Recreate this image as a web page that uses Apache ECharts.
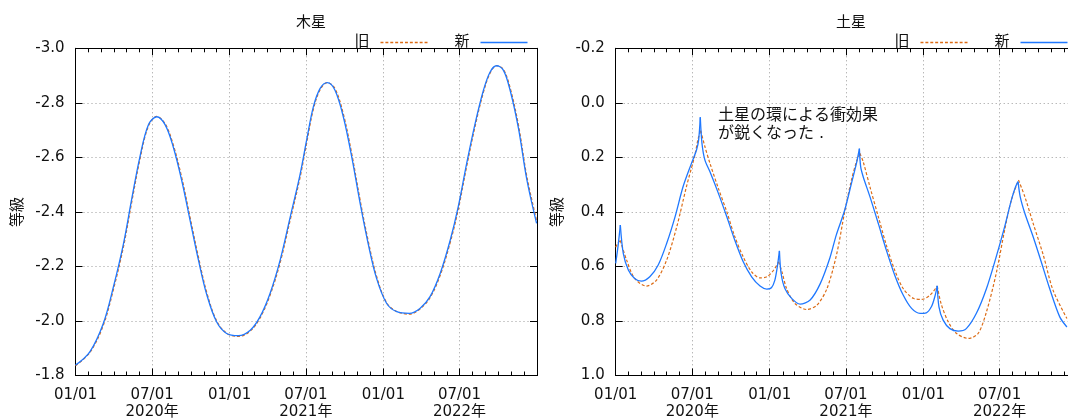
<!DOCTYPE html>
<html>
<head>
<meta charset="utf-8">
<script src="https://cdn.jsdelivr.net/npm/echarts@6/dist/echarts.min.js"></script>
<style>html,body{margin:0;padding:0;background:#fff}#c{width:1068px;height:419px}</style>
</head>
<body>
<div id="c"></div>
<script>
// ---------- data ----------
const panelTitles = ['木星', '土星'];
const seriesNames = ['旧', '新'];
const yAxisName = '等級';
const note = '土星の環による衝効果\nが鋭くなった .';

const jupiterDates = ['2020-01-01','2020-02-04','2020-03-07','2020-03-31','2020-04-24','2020-05-13','2020-06-02','2020-06-22','2020-07-12','2020-08-01','2020-08-20','2020-09-09','2020-09-29','2020-10-19','2020-11-08','2020-12-01','2020-12-25','2021-01-22','2021-02-19','2021-03-14','2021-04-07','2021-05-01','2021-05-25','2021-06-17','2021-07-03','2021-07-19','2021-08-04','2021-08-21','2021-09-08','2021-09-28','2021-10-18','2021-11-07','2021-11-26','2021-12-16','2022-01-09','2022-02-02','2022-03-04','2022-03-29','2022-04-22','2022-05-16','2022-06-09','2022-06-28','2022-07-18','2022-08-07','2022-08-27','2022-09-12','2022-09-27','2022-10-13','2022-10-29','2022-11-18','2022-12-08','2022-12-31'];
const jupiterNew = [-1.838,-1.887,-1.991,-2.125,-2.284,-2.443,-2.602,-2.719,-2.749,-2.719,-2.639,-2.517,-2.370,-2.223,-2.095,-1.997,-1.954,-1.946,-1.966,-2.015,-2.101,-2.223,-2.382,-2.535,-2.664,-2.786,-2.853,-2.874,-2.847,-2.749,-2.602,-2.431,-2.284,-2.156,-2.064,-2.034,-2.028,-2.046,-2.089,-2.174,-2.297,-2.419,-2.578,-2.724,-2.847,-2.914,-2.936,-2.920,-2.847,-2.706,-2.517,-2.358];
const jupiterOld = [-1.836,-1.884,-1.984,-2.115,-2.273,-2.431,-2.592,-2.714,-2.750,-2.723,-2.647,-2.528,-2.381,-2.234,-2.103,-2.001,-1.955,-1.943,-1.963,-2.010,-2.094,-2.214,-2.371,-2.524,-2.653,-2.777,-2.848,-2.874,-2.853,-2.760,-2.614,-2.443,-2.295,-2.164,-2.067,-2.035,-2.025,-2.044,-2.085,-2.167,-2.288,-2.409,-2.567,-2.714,-2.840,-2.910,-2.936,-2.923,-2.856,-2.718,-2.529,-2.369];

const saturnNewDates = ['2020-01-01','2020-01-07','2020-01-12','2020-01-19','2020-01-31','2020-02-15','2020-03-02','2020-03-22','2020-04-11','2020-05-01','2020-05-21','2020-06-09','2020-06-29','2020-07-11','2020-07-16','2020-07-20','2020-07-24','2020-07-31','2020-08-12','2020-09-01','2020-09-21','2020-10-10','2020-10-30','2020-11-19','2020-12-09','2020-12-25','2021-01-05','2021-01-13','2021-01-19','2021-01-24','2021-01-28','2021-02-06','2021-02-22','2021-03-14','2021-04-07','2021-05-01','2021-05-24','2021-06-08','2021-06-28','2021-07-14','2021-07-26','2021-07-30','2021-08-02','2021-08-05','2021-08-11','2021-08-27','2021-09-16','2021-10-05','2021-10-25','2021-11-14','2021-12-04','2021-12-24','2022-01-08','2022-01-20','2022-01-28','2022-02-03','2022-02-07','2022-02-17','2022-03-05','2022-03-25','2022-04-13','2022-05-07','2022-05-31','2022-06-23','2022-07-13','2022-07-29','2022-08-08','2022-08-14','2022-08-19','2022-08-30','2022-09-19','2022-10-08','2022-10-28','2022-11-21','2022-12-08'];
const saturnNew = [0.589,0.520,0.448,0.552,0.613,0.644,0.654,0.638,0.595,0.516,0.418,0.308,0.222,0.173,0.137,0.053,0.149,0.210,0.253,0.332,0.418,0.504,0.583,0.638,0.672,0.683,0.678,0.651,0.601,0.543,0.626,0.681,0.717,0.738,0.723,0.663,0.568,0.485,0.394,0.296,0.222,0.192,0.168,0.234,0.271,0.344,0.443,0.540,0.632,0.705,0.754,0.772,0.770,0.748,0.712,0.671,0.748,0.797,0.828,0.837,0.828,0.772,0.681,0.565,0.455,0.357,0.308,0.289,0.344,0.405,0.492,0.583,0.681,0.785,0.822];
const saturnNewCusps = ['2020-01-12','2020-07-20','2021-01-24','2021-08-02','2022-02-03','2022-08-14'];

const saturnOldDates = ['2020-01-01','2020-01-06','2020-01-12','2020-01-27','2020-02-15','2020-03-14','2020-04-07','2020-05-01','2020-05-25','2020-06-17','2020-07-07','2020-07-15','2020-07-21','2020-07-31','2020-08-12','2020-09-01','2020-09-21','2020-10-10','2020-10-30','2020-11-19','2020-12-09','2020-12-25','2021-01-10','2021-01-22','2021-01-30','2021-02-10','2021-03-02','2021-03-30','2021-04-23','2021-05-17','2021-06-09','2021-06-28','2021-07-14','2021-07-26','2021-08-03','2021-08-11','2021-08-27','2021-09-16','2021-10-05','2021-10-25','2021-11-14','2021-12-08','2021-12-28','2022-01-17','2022-02-03','2022-02-12','2022-03-01','2022-03-21','2022-04-18','2022-05-11','2022-05-31','2022-06-23','2022-07-13','2022-07-29','2022-08-15','2022-08-30','2022-09-19','2022-10-13','2022-11-05','2022-12-08'];
const saturnOld = [0.530,0.515,0.505,0.577,0.644,0.672,0.650,0.577,0.455,0.308,0.192,0.131,0.102,0.161,0.222,0.314,0.400,0.491,0.565,0.620,0.642,0.638,0.614,0.583,0.620,0.681,0.736,0.758,0.742,0.681,0.555,0.400,0.284,0.216,0.185,0.216,0.308,0.418,0.522,0.614,0.681,0.717,0.721,0.705,0.672,0.736,0.803,0.846,0.864,0.846,0.766,0.626,0.467,0.357,0.283,0.344,0.443,0.559,0.687,0.791];
const saturnOldCusps = ['2020-01-12','2020-07-21','2021-01-22','2021-08-03','2022-02-03','2022-08-15'];

const jupiterRange = [-3.0, -1.8];
const saturnRange = [-0.2, 1.0];
const magStep = 0.2;

// ---------- build ----------
const FONT = '"DejaVu Sans", "Noto Sans CJK JP", sans-serif';
const TXT = '#111';
const OLD_COLOR = '#dc6c16';
const NEW_COLOR = '#1f78ff';
const GRIDLINE = {type: [1, 3], color: '#9a9a9a', width: 1};

const categories = [];
for (let t = Date.UTC(2020, 0, 1); t <= Date.UTC(2023, 0, 1); t += 86400000) {
  categories.push(new Date(t).toISOString().slice(0, 10));
}
const isMajor = (i, v) => /-(01|07)-01$/.test(v);
const isLabeled = (i, v) => isMajor(i, v) && v !== '2023-01-01';
const isMonth = (i, v) => /-01$/.test(v);
const fmtDate = v => {
  const p = v.split('-');
  return p[1] === '07' ? p[1] + '/' + p[2] + '\n' + p[0] + '年' : p[1] + '/' + p[2];
};

function xAxesFor(g) {
  const base = {type: 'category', gridIndex: g, data: categories, boundaryGap: false};
  const line = {show: true, onZero: false, lineStyle: {color: '#000', width: 1}};
  return [
    Object.assign({}, base, {position: 'bottom', axisLine: line,
      axisTick: {show: true, inside: true, length: 7, interval: isMajor, lineStyle: {color: '#000'}},
      axisLabel: {show: true, interval: isLabeled, formatter: fmtDate, margin: 11, fontSize: 15, lineHeight: 17, color: TXT, fontFamily: FONT},
      splitLine: {show: true, interval: isMajor, lineStyle: GRIDLINE}}),
    Object.assign({}, base, {position: 'bottom', axisLine: {show: false, onZero: false},
      axisTick: {show: true, inside: true, length: 4, interval: isMonth, lineStyle: {color: '#000'}},
      axisLabel: {show: false}, splitLine: {show: false}}),
    Object.assign({}, base, {position: 'top', axisLine: line,
      axisTick: {show: true, inside: true, length: 7, interval: isMajor, lineStyle: {color: '#000'}},
      axisLabel: {show: false}, splitLine: {show: false}}),
    Object.assign({}, base, {position: 'top', axisLine: {show: false, onZero: false},
      axisTick: {show: true, inside: true, length: 4, interval: isMonth, lineStyle: {color: '#000'}},
      axisLabel: {show: false}, splitLine: {show: false}})
  ];
}
function yAxesFor(g, range) {
  const base = {type: 'value', gridIndex: g, inverse: true, min: range[0], max: range[1], interval: magStep,
    axisLine: {show: true, onZero: false, lineStyle: {color: '#000', width: 1}},
    axisTick: {show: true, inside: true, length: 7, lineStyle: {color: '#000'}}};
  return [
    Object.assign({}, base, {position: 'left',
      axisLabel: {show: true, formatter: v => v.toFixed(1), margin: 11, fontSize: 15, color: TXT, fontFamily: FONT},
      splitLine: {show: true, lineStyle: GRIDLINE},
      name: yAxisName, nameLocation: 'middle', nameRotate: 90, nameGap: 50,
      nameTextStyle: {fontSize: 15, color: TXT, fontFamily: FONT}}),
    Object.assign({}, base, {position: 'right', axisLabel: {show: false}, splitLine: {show: false}})
  ];
}
const pairs = (dates, vals) => dates.map((d, i) => [d, vals[i]]);
function splitAt(dates, vals, cusps) {
  const segs = []; let cur = [];
  dates.forEach((d, i) => {
    cur.push([d, vals[i]]);
    if (cusps.indexOf(d) >= 0 && i > 0 && i < dates.length - 1) { segs.push(cur); cur = [[d, vals[i]]]; }
  });
  segs.push(cur);
  return segs;
}
const oldStyle = {color: OLD_COLOR, width: 1.2, type: [3, 2]};
const newStyle = {color: NEW_COLOR, width: 1.3, type: 'solid'};
function lineSeries(name, data, xi, yi, style, smooth) {
  return {name: name, type: 'line', xAxisIndex: xi, yAxisIndex: yi, data: data, symbol: 'none',
    smooth: smooth, color: style.color, lineStyle: style, animation: false, clip: true};
}

const series = [
  lineSeries(seriesNames[0], pairs(jupiterDates, jupiterOld), 0, 0, oldStyle, 0.35),
  lineSeries(seriesNames[1], pairs(jupiterDates, jupiterNew), 0, 0, newStyle, 0.35)
];
splitAt(saturnOldDates, saturnOld, saturnOldCusps).forEach(s => series.push(lineSeries(seriesNames[0], s, 4, 2, oldStyle, 0.3)));
splitAt(saturnNewDates, saturnNew, saturnNewCusps).forEach(s => series.push(lineSeries(seriesNames[1], s, 4, 2, newStyle, 0.3)));

// legend icons: dashed / solid strokes
let dashPath = 'path://';
for (let i = 0; i < 10; i++) dashPath += 'M' + (i * 5) + ',0h3v1h-3z';
const solidPath = 'path://M0,0h48v1h-48z';
function legendAt(left, name, icon) {
  return {left: left, top: 35, orient: 'horizontal', align: 'right', itemWidth: 47, itemHeight: 1.3,
    symbolKeepAspect: false, selectedMode: false, padding: 0, width: 120,
    data: [{name: name, icon: icon}],
    textStyle: {fontSize: 15, color: TXT, fontFamily: FONT, padding: [0, 6, 0, 0]}};
}

const chart = echarts.init(document.getElementById('c'), null, {renderer: 'canvas'});
chart.setOption({
  animation: false,
  backgroundColor: '#fff',
  textStyle: {fontFamily: FONT},
  title: [
    {text: panelTitles[0], left: 306, top: 11, textAlign: 'center', textStyle: {fontSize: 15, fontWeight: 'normal', color: TXT, fontFamily: FONT}},
    {text: panelTitles[1], left: 846, top: 11, textAlign: 'center', textStyle: {fontSize: 15, fontWeight: 'normal', color: TXT, fontFamily: FONT}}
  ],
  legend: [
    legendAt(354.5, seriesNames[0], dashPath),
    legendAt(454.5, seriesNames[1], solidPath),
    legendAt(894.5, seriesNames[0], dashPath),
    legendAt(994.5, seriesNames[1], solidPath)
  ],
  grid: [
    {left: 75.5, width: 461.5, top: 48.3, height: 327.2, containLabel: false, outerBoundsMode: 'none'},
    {left: 615.7, width: 461.3, top: 48.3, height: 327.2, containLabel: false, outerBoundsMode: 'none'}
  ],
  xAxis: xAxesFor(0).concat(xAxesFor(1)),
  yAxis: yAxesFor(0, jupiterRange).concat(yAxesFor(1, saturnRange)),
  graphic: [
    {type: 'text', left: 718, top: 107, z: 100,
      style: {text: note, fontSize: 16, lineHeight: 18, fill: TXT, fontFamily: FONT}}
  ],
  series: series
});
</script>
</body>
</html>
